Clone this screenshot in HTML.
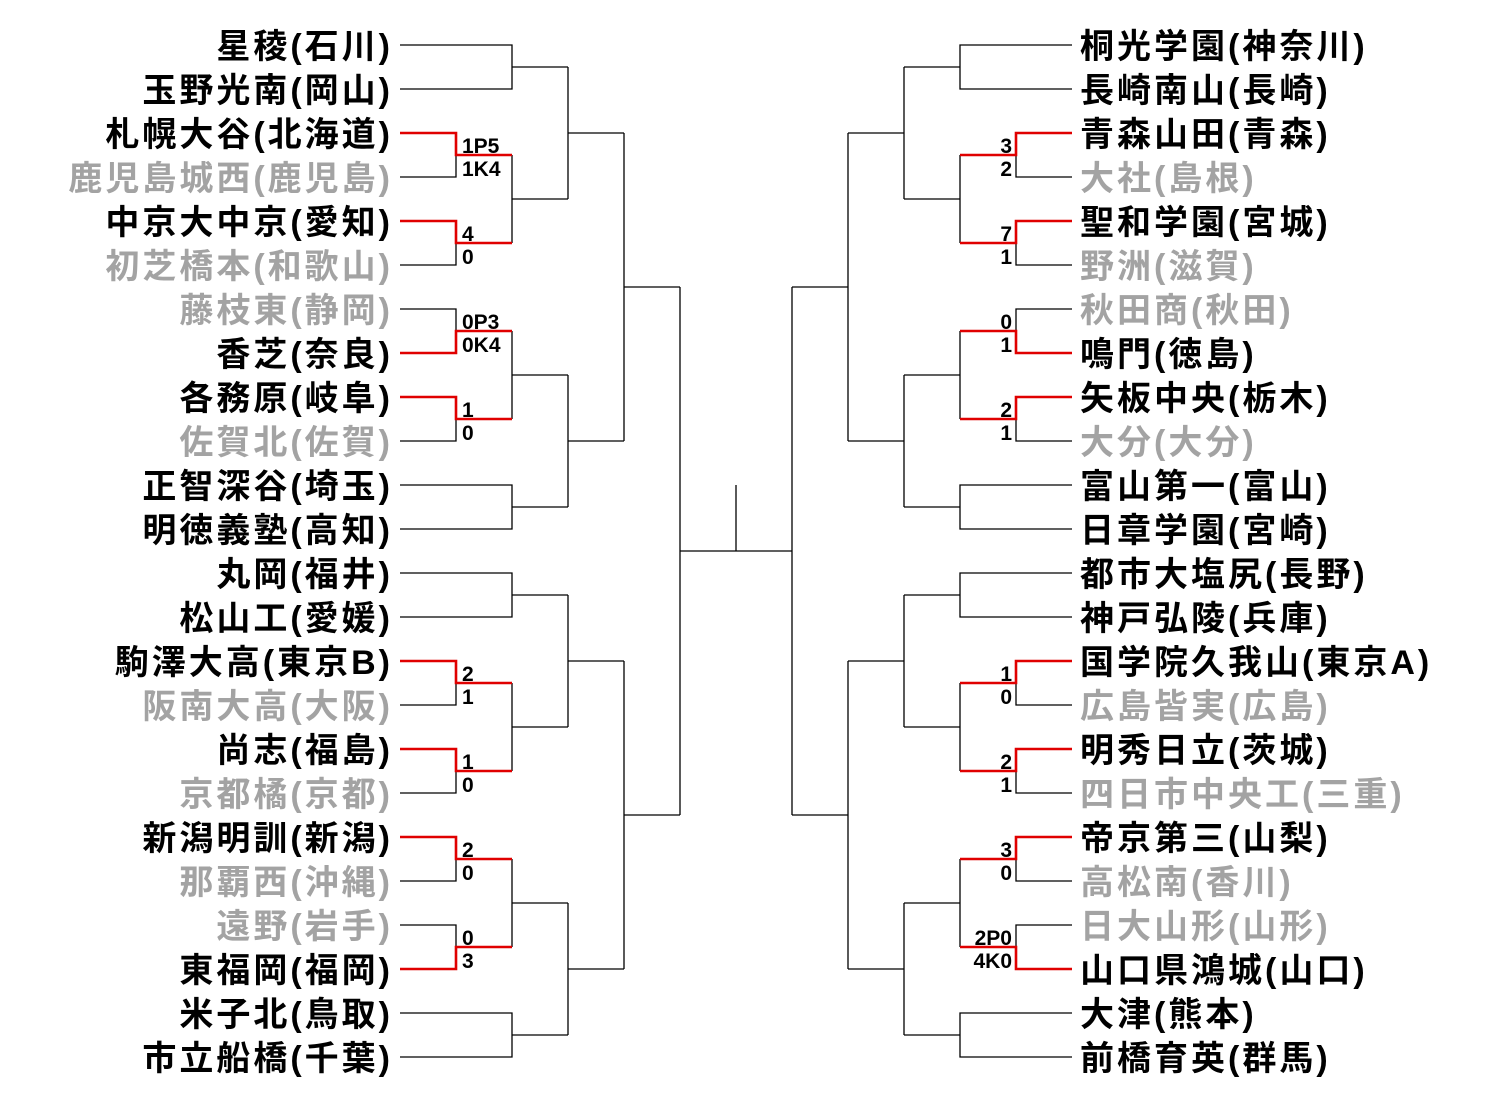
<!DOCTYPE html>
<html><head><meta charset="utf-8"><style>
html,body{margin:0;padding:0;background:#fff;}
#w{position:relative;width:1499px;height:1103px;overflow:hidden;}
.n{position:absolute;height:44px;line-height:44px;margin-top:2px;font-family:"Liberation Sans","Noto Sans CJK JP",sans-serif;font-weight:bold;font-size:34px;letter-spacing:3px;white-space:nowrap;color:#000;}
.l{right:1106px;text-align:right;}
.r{left:1080px;}
.g{color:#a3a3a3;}
svg{position:absolute;left:0;top:0;}
</style></head><body><div id="w">
<svg width="1499" height="1103" viewBox="0 0 1499 1103">
<defs>
<g id="half" fill="none">
<g stroke="#000" stroke-width="1.3">
<path d="M400 45H512V89H400M512 67H568"/>
<path d="M400 133H456V177H400M400 221H456V265H400"/>
<path d="M512 155V243M512 199H568M568 67V199M568 133H624"/>
<path d="M400 309H456V353H400M400 397H456V441H400"/>
<path d="M512 331V419M512 375H568"/>
<path d="M400 485H512V529H400M512 507H568M568 375V507M568 441H624M624 133V441M624 287H680"/>
<path d="M400 573H512V617H400M512 595H568"/>
<path d="M400 661H456V705H400M400 749H456V793H400"/>
<path d="M512 683V771M512 727H568M568 595V727M568 661H624"/>
<path d="M400 837H456V881H400M400 925H456V969H400"/>
<path d="M512 859V947M512 903H568"/>
<path d="M400 1013H512V1057H400M512 1035H568M568 903V1035M568 969H624M624 661V969M624 815H680"/>
<path d="M680 287V815M680 551H736"/>
</g>
<g stroke="#e00000" stroke-width="2.6">
<path d="M400 133H456V155H512"/>
<path d="M400 221H456V243H512"/>
<path d="M400 353H456V331H512"/>
<path d="M400 397H456V419H512"/>
<path d="M400 661H456V683H512"/>
<path d="M400 749H456V771H512"/>
<path d="M400 837H456V859H512"/>
<path d="M400 969H456V947H512"/>
</g>
</g>
</defs>
<use href="#half"/>
<g transform="translate(1472,0) scale(-1,1)"><use href="#half"/></g>
<path d="M736 485V551" stroke="#000" stroke-width="1.3"/>
<g font-family="Liberation Sans, sans-serif" font-weight="bold" font-size="21" fill="#000">
<text x="462" y="153">1P5</text><text x="462" y="176">1K4</text>
<text x="462" y="241">4</text><text x="462" y="264">0</text>
<text x="462" y="329">0P3</text><text x="462" y="352">0K4</text>
<text x="462" y="417">1</text><text x="462" y="440">0</text>
<text x="462" y="681">2</text><text x="462" y="704">1</text>
<text x="462" y="769">1</text><text x="462" y="792">0</text>
<text x="462" y="857">2</text><text x="462" y="880">0</text>
<text x="462" y="945">0</text><text x="462" y="968">3</text>
</g>
<g font-family="Liberation Sans, sans-serif" font-weight="bold" font-size="21" fill="#000" text-anchor="end">
<text x="1012" y="153">3</text><text x="1012" y="176">2</text>
<text x="1012" y="241">7</text><text x="1012" y="264">1</text>
<text x="1012" y="329">0</text><text x="1012" y="352">1</text>
<text x="1012" y="417">2</text><text x="1012" y="440">1</text>
<text x="1012" y="681">1</text><text x="1012" y="704">0</text>
<text x="1012" y="769">2</text><text x="1012" y="792">1</text>
<text x="1012" y="857">3</text><text x="1012" y="880">0</text>
<text x="1012" y="945">2P0</text><text x="1012" y="968">4K0</text>
</g>
</svg>

<div class="n l" style="top:23px">星稜(石川)</div>
<div class="n l" style="top:67px">玉野光南(岡山)</div>
<div class="n l" style="top:111px">札幌大谷(北海道)</div>
<div class="n l g" style="top:155px">鹿児島城西(鹿児島)</div>
<div class="n l" style="top:199px">中京大中京(愛知)</div>
<div class="n l g" style="top:243px">初芝橋本(和歌山)</div>
<div class="n l g" style="top:287px">藤枝東(静岡)</div>
<div class="n l" style="top:331px">香芝(奈良)</div>
<div class="n l" style="top:375px">各務原(岐阜)</div>
<div class="n l g" style="top:419px">佐賀北(佐賀)</div>
<div class="n l" style="top:463px">正智深谷(埼玉)</div>
<div class="n l" style="top:507px">明徳義塾(高知)</div>
<div class="n l" style="top:551px">丸岡(福井)</div>
<div class="n l" style="top:595px">松山工(愛媛)</div>
<div class="n l" style="top:639px">駒澤大高(東京B)</div>
<div class="n l g" style="top:683px">阪南大高(大阪)</div>
<div class="n l" style="top:727px">尚志(福島)</div>
<div class="n l g" style="top:771px">京都橘(京都)</div>
<div class="n l" style="top:815px">新潟明訓(新潟)</div>
<div class="n l g" style="top:859px">那覇西(沖縄)</div>
<div class="n l g" style="top:903px">遠野(岩手)</div>
<div class="n l" style="top:947px">東福岡(福岡)</div>
<div class="n l" style="top:991px">米子北(鳥取)</div>
<div class="n l" style="top:1035px">市立船橋(千葉)</div>

<div class="n r" style="top:23px">桐光学園(神奈川)</div>
<div class="n r" style="top:67px">長崎南山(長崎)</div>
<div class="n r" style="top:111px">青森山田(青森)</div>
<div class="n r g" style="top:155px">大社(島根)</div>
<div class="n r" style="top:199px">聖和学園(宮城)</div>
<div class="n r g" style="top:243px">野洲(滋賀)</div>
<div class="n r g" style="top:287px">秋田商(秋田)</div>
<div class="n r" style="top:331px">鳴門(徳島)</div>
<div class="n r" style="top:375px">矢板中央(栃木)</div>
<div class="n r g" style="top:419px">大分(大分)</div>
<div class="n r" style="top:463px">富山第一(富山)</div>
<div class="n r" style="top:507px">日章学園(宮崎)</div>
<div class="n r" style="top:551px">都市大塩尻(長野)</div>
<div class="n r" style="top:595px">神戸弘陵(兵庫)</div>
<div class="n r" style="top:639px">国学院久我山(東京A)</div>
<div class="n r g" style="top:683px">広島皆実(広島)</div>
<div class="n r" style="top:727px">明秀日立(茨城)</div>
<div class="n r g" style="top:771px">四日市中央工(三重)</div>
<div class="n r" style="top:815px">帝京第三(山梨)</div>
<div class="n r g" style="top:859px">高松南(香川)</div>
<div class="n r g" style="top:903px">日大山形(山形)</div>
<div class="n r" style="top:947px">山口県鴻城(山口)</div>
<div class="n r" style="top:991px">大津(熊本)</div>
<div class="n r" style="top:1035px">前橋育英(群馬)</div>
</div></body></html>
